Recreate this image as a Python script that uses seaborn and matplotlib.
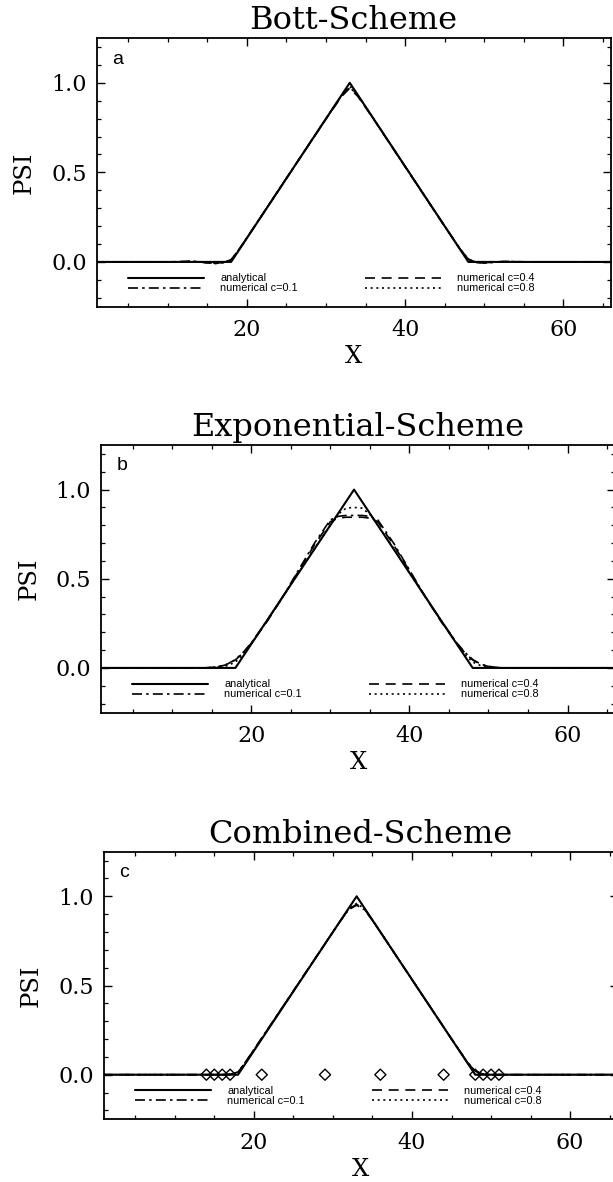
import numpy as np
import pandas as pd
import matplotlib
matplotlib.use("Agg")
import matplotlib.pyplot as plt
from matplotlib.ticker import MultipleLocator, FixedLocator
import seaborn as sns

# ---------------- data ----------------
titles = ["Bott-Scheme", "Exponential-Scheme", "Combined-Scheme"]
panel_letters = ["a", "b", "c"]
series_labels = ["analytical", "numerical c=0.1", "numerical c=0.4", "numerical c=0.8"]

# analytical solution (triangle)
x_analytical = [1, 18, 33, 48, 66]
psi_analytical = [0.0, 0.0, 1.0, 0.0, 0.0]

# Bott scheme
x_bott = [1, 10, 12, 13, 14, 15, 16, 17, 18, 19, 20, 25, 30, 31, 32, 33, 34, 35, 36,
          40, 45, 46, 47, 48, 49, 50, 51, 52, 53, 54, 56, 66]
bott_c01 = [0, 0, 0.002, 0.004, 0.001, -0.006, -0.009, -0.004, 0.012, 0.07, 0.135, 0.468,
            0.80, 0.865, 0.93, 0.975, 0.93, 0.865, 0.80, 0.533, 0.20, 0.135, 0.07, 0.015,
            -0.004, -0.006, -0.003, 0.001, 0.003, 0.001, 0, 0]
bott_c04 = [0, 0, 0.002, 0.003, 0.0, -0.005, -0.008, -0.003, 0.013, 0.068, 0.134, 0.466,
            0.798, 0.862, 0.925, 0.97, 0.925, 0.862, 0.798, 0.531, 0.199, 0.134, 0.068, 0.016,
            -0.003, -0.005, -0.002, 0.001, 0.002, 0.001, 0, 0]
bott_c08 = [0, 0, 0.001, 0.003, 0.001, -0.004, -0.007, -0.003, 0.011, 0.069, 0.135, 0.467,
            0.80, 0.866, 0.932, 0.98, 0.932, 0.866, 0.80, 0.533, 0.20, 0.135, 0.069, 0.014,
            -0.003, -0.005, -0.002, 0.001, 0.002, 0.001, 0, 0]

# Exponential scheme
x_expo = [1, 14, 15, 16, 17, 18, 19, 20, 22, 24, 26, 28, 30, 31, 32, 33, 34, 35, 36,
          38, 40, 42, 44, 46, 47, 48, 49, 50, 51, 52, 66]
expo_c01 = [0, 0, 0.003, 0.009, 0.022, 0.047, 0.088, 0.14, 0.265, 0.40, 0.55, 0.70, 0.83,
            0.85, 0.855, 0.855, 0.855, 0.85, 0.83, 0.70, 0.55, 0.40, 0.265, 0.14, 0.088,
            0.047, 0.022, 0.009, 0.003, 0, 0]
expo_c04 = [0, 0, 0.002, 0.008, 0.02, 0.045, 0.085, 0.138, 0.26, 0.398, 0.545, 0.69, 0.82,
            0.84, 0.845, 0.845, 0.845, 0.84, 0.82, 0.69, 0.545, 0.398, 0.26, 0.138, 0.085,
            0.045, 0.02, 0.008, 0.002, 0, 0]
expo_c08 = [0, 0, 0.001, 0.004, 0.013, 0.033, 0.075, 0.135, 0.265, 0.40, 0.535, 0.67, 0.80,
            0.862, 0.896, 0.90, 0.896, 0.862, 0.80, 0.67, 0.535, 0.40, 0.265, 0.135, 0.075,
            0.033, 0.013, 0.004, 0.001, 0, 0]

# Combined scheme
x_comb = [1, 16, 17, 18, 19, 20, 25, 30, 31, 32, 33, 34, 35, 36, 40, 45, 46, 47, 48, 49, 50, 66]
comb_c01 = [0, 0, 0.002, 0.015, 0.075, 0.14, 0.47, 0.80, 0.865, 0.925, 0.95, 0.925, 0.865,
            0.80, 0.533, 0.20, 0.135, 0.07, 0.02, 0.003, 0, 0]
comb_c04 = [0, 0, 0.002, 0.014, 0.073, 0.139, 0.469, 0.80, 0.866, 0.928, 0.955, 0.928, 0.866,
            0.80, 0.533, 0.20, 0.135, 0.069, 0.019, 0.003, 0, 0]
comb_c08 = [0, 0, 0.001, 0.013, 0.072, 0.138, 0.468, 0.80, 0.866, 0.93, 0.96, 0.93, 0.866,
            0.80, 0.533, 0.20, 0.134, 0.068, 0.018, 0.002, 0, 0]

# diamond markers (panel c)
diamond_x = [14, 15, 16, 17, 21, 29, 36, 44, 48, 49, 50, 51]
diamond_y = [0, 0, 0, 0, 0, 0, 0, 0, 0, 0, 0, 0]

x_ticks = [20, 40, 60]
y_ticks = [0.0, 0.5, 1.0]

panels = [
    (x_bott, [bott_c01, bott_c04, bott_c08]),
    (x_expo, [expo_c01, expo_c04, expo_c08]),
    (x_comb, [comb_c01, comb_c04, comb_c08]),
]

# ---------------- style ----------------
sns.set_style("ticks")
plt.rcParams["font.family"] = ["DejaVu Serif"]
plt.rcParams["xtick.direction"] = "in"
plt.rcParams["ytick.direction"] = "in"
plt.rcParams["xtick.top"] = True
plt.rcParams["ytick.right"] = True
for key in ["text.color", "axes.labelcolor", "xtick.color", "ytick.color",
            "axes.edgecolor", "xtick.labelcolor", "ytick.labelcolor"]:
    plt.rcParams[key] = "black"

W, H = 613, 1182
fig = plt.figure(figsize=(W / 100, H / 100), dpi=100)
fig.patch.set_facecolor("white")

# axes rects in pixels: left, top, bottom
rects_px = [(96.7, 38.0, 306.7), (101.0, 445.0, 712.5), (103.6, 851.7, 1119.3)]
axw_px = 514.0

dashdot = (0, (6, 2.5, 1.5, 2.5))
dashed = (0, (6, 4))
dotted = (0, (1.2, 2.2))
styles = [dashdot, dashed, dotted]

legend_font = {"family": "Liberation Sans", "size": 7.8}

for i, (xs, nums) in enumerate(panels):
    left, top, bottom = rects_px[i]
    ax = fig.add_axes([left / W, (H - bottom) / H, axw_px / W, (bottom - top) / H])
    ax.set_facecolor("white")

    sns.lineplot(x=x_analytical, y=psi_analytical, ax=ax, color="black", linewidth=1.5,
                 label=series_labels[0], estimator=None, sort=False)
    for j, ys in enumerate(nums):
        sns.lineplot(x=xs, y=ys, ax=ax, color="black", linewidth=1.2, linestyle=styles[j],
                     label=series_labels[j + 1], estimator=None, sort=False)
    if i == 2:
        sns.scatterplot(x=diamond_x, y=diamond_y, ax=ax, marker="D", s=32,
                        facecolors="none", edgecolor="black", linewidth=1.0, zorder=5,
                        legend=False)

    ax.set_xlim(1, 66)
    ax.set_ylim(-0.25, 1.25)
    ax.xaxis.set_major_locator(FixedLocator(x_ticks))
    ax.xaxis.set_minor_locator(MultipleLocator(5))
    ax.yaxis.set_major_locator(FixedLocator(y_ticks))
    ax.yaxis.set_minor_locator(MultipleLocator(0.1))
    ax.set_yticklabels(["0.0", "0.5", "1.0"])
    ax.tick_params(which="major", length=6, width=1.0, labelsize=16, color="black")
    ax.tick_params(axis="x", which="major", pad=9)
    ax.tick_params(axis="y", which="major", pad=7)
    ax.tick_params(which="minor", length=3, width=0.9, color="black")
    for sp in ax.spines.values():
        sp.set_linewidth(1.3)
        sp.set_color("black")

    ax.set_xlabel("X", fontsize=17.5, labelpad=3)
    ax.set_ylabel("PSI", fontsize=17.5, labelpad=11)
    ax.set_title(titles[i], fontsize=23, pad=6.5)

    ax.text(0.03, 0.905, panel_letters[i], transform=ax.transAxes, fontsize=14,
            family="Liberation Sans", va="baseline", ha="left")

    handles, labels = ax.get_legend_handles_labels()
    hmap = dict(zip(labels, handles))
    common = dict(loc="upper left", frameon=False, prop=legend_font, borderpad=0,
                  borderaxespad=0, handlelength=7.0, handletextpad=1.5,
                  labelspacing=0.0, handleheight=0.5, labelcolor="black")
    leg1 = ax.legend([hmap[series_labels[0]], hmap[series_labels[1]]],
                     series_labels[:2], bbox_to_anchor=(0.061, 0.125), **common)
    ax.add_artist(leg1)
    leg2 = ax.legend([hmap[series_labels[2]], hmap[series_labels[3]]],
                     series_labels[2:], bbox_to_anchor=(0.522, 0.125), **common)

fig.savefig("out.png", dpi=100, facecolor="white")
